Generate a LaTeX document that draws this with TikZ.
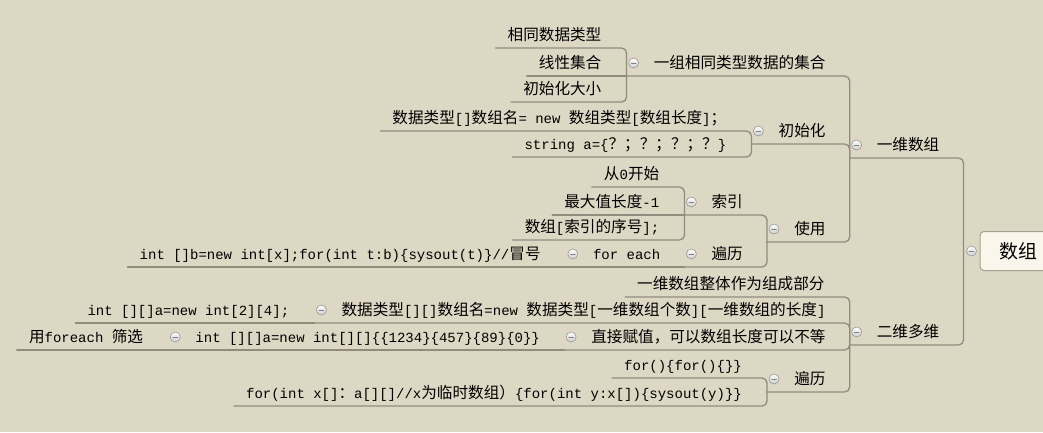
\documentclass[tikz,border=0pt]{standalone}
\usepackage{fontspec}
\setmainfont{Liberation Mono}
\newfontfamily\cjkfont{Noto Sans CJK SC}[Scale=1.115]
% Chinese characters and full-width punctuation go to the CJK font
\XeTeXinterchartokenstate=1
\newXeTeXintercharclass\cjkcls
\newcount\cjkno
\def\setcjkrange#1#2{\cjkno=#1 \loop\ifnum\cjkno<#2 \XeTeXcharclass\cjkno=\cjkcls \advance\cjkno by 1 \repeat}
\setcjkrange{"3000}{"3040}
\setcjkrange{"4E00}{"A000}
\setcjkrange{"FF00}{"FFF0}
\cjkno="21 \loop\ifnum\cjkno<"7F \XeTeXcharclass\cjkno=0 \advance\cjkno by 1 \repeat
\XeTeXinterchartoks 0 \cjkcls = {\begingroup\cjkfont}
\XeTeXinterchartoks 4095 \cjkcls = {\begingroup\cjkfont}
\XeTeXinterchartoks \cjkcls 0 = {\endgroup}
\XeTeXinterchartoks \cjkcls 4095 = {\endgroup}
\definecolor{bgcol}{RGB}{221,216,196}
\definecolor{linecol}{RGB}{145,140,125}
\definecolor{rootfill}{RGB}{250,246,236}
\definecolor{rootline}{RGB}{165,160,145}
\definecolor{foldline}{RGB}{150,150,150}
\definecolor{foldfill}{RGB}{205,205,205}

\begin{document}
\begin{tikzpicture}[line cap=round,line join=round,x=1pt,y=-1pt,
		conn/.style={line width=1.3pt,draw=linecol,rounded corners=5pt},
		topic/.style={anchor=south east,inner xsep=0pt,inner ysep=3pt,text depth=4pt,text height=11pt,font=\fontsize{14}{16}\selectfont,text=black},
		leaf/.style={topic,execute at begin node={\hspace*{12pt}},execute at end node={\hspace*{25pt}}},
		branch/.style={topic,execute at begin node={\hspace*{27pt}},execute at end node={\hspace*{24pt}}},
		fold/.style={circle,draw=foldline,line width=0.6pt,inner sep=0pt,minimum size=10pt,top color=white,bottom color=foldfill,
			path picture={\draw[line width=1pt,draw=gray] ([xshift=-2.3pt]path picture bounding box.center)--([xshift=2.3pt]path picture bounding box.center);}},
		root/.style={draw=rootline,fill=rootfill,rounded corners=4pt,line width=1pt,minimum width=76pt,minimum height=39pt,font=\fontsize{17}{20}\selectfont}]
		\useasboundingbox (0,0) rectangle (1043,432);
		\clip (0,0) rectangle (1043,432);
		\fill[bgcol] (0,0) rectangle (1043,432);
		% root and its two branches
		\node[root] (root) at (1018,251) {数组};
		\coordinate (rootend) at ([xshift=-16pt]root.west);
		\node[branch] (yiwei) at ([yshift=93pt]rootend) {一维数组};
		\node[branch] (erwei) at ([yshift=-94pt]rootend) {二维多维};
		% 一维数组
		\node[branch] (jihe) at ([yshift=82pt]yiwei.south west) {一组相同类型数据的集合};
		\node[branch] (chushihua) at ([yshift=14pt]yiwei.south west) {初始化};
		\node[branch] (shiyong) at ([yshift=-84pt]yiwei.south west) {使用};
		\node[leaf] (xiangtong) at ([yshift=28pt]jihe.south west) {相同数据类型};
		\node[leaf] (xianxing) at (jihe.south west) {线性集合};
		\node[leaf] (daxiao) at ([yshift=-26pt]jihe.south west) {初始化大小};
		\node[leaf] (dingyi) at ([yshift=13pt]chushihua.south west) {数据类型[]数组名= new 数组类型[数组长度]；};
		\node[leaf] (stringa) at ([yshift=-13pt]chushihua.south west) {string a=\{？；？；？；？\}};
		\node[branch] (suoyin) at ([yshift=27pt]shiyong.south west) {索引};
		\node[branch] (bianli) at ([yshift=-25pt]shiyong.south west) {遍历};
		\node[leaf] (cong0) at ([yshift=28pt]suoyin.south west) {从0开始};
		\node[leaf] (zuida) at (suoyin.south west) {最大值长度-1};
		\node[leaf] (xuhao) at ([yshift=-25pt]suoyin.south west) {数组[索引的序号];};
		\node[branch] (foreach) at (bianli.south west) {for each};
		\node[leaf] (intb) at (foreach.south west) {int []b=new int[x];for(int t:b)\{sysout(t)\}//冒号};
		% 二维多维
		\node[leaf] (zhengti) at ([yshift=48pt]erwei.south west) {一维数组整体作为组成部分};
		\node[branch] (dingyi2) at ([yshift=22pt]erwei.south west) {数据类型[][]数组名=new 数据类型[一维数组个数][一维数组的长度]};
		\node[branch] (fuzhi) at ([yshift=-5pt]erwei.south west) {直接赋值，可以数组长度可以不等};
		\node[branch] (bianli2) at ([yshift=-47pt]erwei.south west) {遍历};
		\node[leaf] (int24) at (dingyi2.south west) {int [][]a=new int[2][4];};
		\node[branch] (intarr) at (fuzhi.south west) {int [][]a=new int[][]\{\{1234\}\{457\}\{89\}\{0\}\}};
		\node[leaf] (shaixuan) at (intarr.south west) {用foreach 筛选};
		\node[leaf] (forfor) at ([yshift=14pt]bianli2.south west) {for()\{for()\{\}\}};
		\node[leaf] (forint) at ([yshift=-14pt]bianli2.south west) {for(int x[]：a[][]//x为临时数组）\{for(int y:x[])\{sysout(y)\}\}};
		% connectors
		\draw[conn] (rootend) |- (yiwei.south west);
		\draw[conn] (rootend) |- (erwei.south west);
		\draw[conn] (yiwei.south west) |- (jihe.south west);
		\draw[conn] (yiwei.south west) |- (chushihua.south west);
		\draw[conn] (yiwei.south west) |- (shiyong.south west);
		\draw[conn] (jihe.south west) |- (xiangtong.south west);
		\draw[conn] (jihe.south west) -- (xianxing.south west);
		\draw[conn] (jihe.south west) |- (daxiao.south west);
		\draw[conn] (chushihua.south west) |- (dingyi.south west);
		\draw[conn] (chushihua.south west) |- (stringa.south west);
		\draw[conn] (shiyong.south west) |- (suoyin.south west);
		\draw[conn] (shiyong.south west) |- (bianli.south west);
		\draw[conn] (suoyin.south west) |- (cong0.south west);
		\draw[conn] (suoyin.south west) -- (zuida.south west);
		\draw[conn] (suoyin.south west) |- (xuhao.south west);
		\draw[conn] (bianli.south west) -- (foreach.south west);
		\draw[conn] (foreach.south west) -- (intb.south west);
		\draw[conn] (erwei.south west) |- (zhengti.south west);
		\draw[conn] (erwei.south west) |- (dingyi2.south west);
		\draw[conn] (erwei.south west) |- (fuzhi.south west);
		\draw[conn] (erwei.south west) |- (bianli2.south west);
		\draw[conn] (dingyi2.south west) -- (int24.south west);
		\draw[conn] (fuzhi.south west) -- (intarr.south west);
		\draw[conn] (intarr.south west) -- (shaixuan.south west);
		\draw[conn] (bianli2.south west) |- (forfor.south west);
		\draw[conn] (bianli2.south west) |- (forint.south west);
		% fold buttons
		\node[fold] at ([xshift=-8pt]root.west) {};
		\node[fold] at ([shift={(7pt,13pt)}]yiwei.south west) {};
		\node[fold] at ([shift={(7pt,13pt)}]erwei.south west) {};
		\node[fold] at ([shift={(7pt,13pt)}]jihe.south west) {};
		\node[fold] at ([shift={(7pt,13pt)}]chushihua.south west) {};
		\node[fold] at ([shift={(7pt,13pt)}]shiyong.south west) {};
		\node[fold] at ([shift={(7pt,13pt)}]suoyin.south west) {};
		\node[fold] at ([shift={(7pt,13pt)}]bianli.south west) {};
		\node[fold] at ([shift={(7pt,13pt)}]foreach.south west) {};
		\node[fold] at ([shift={(7pt,13pt)}]dingyi2.south west) {};
		\node[fold] at ([shift={(7pt,13pt)}]fuzhi.south west) {};
		\node[fold] at ([shift={(7pt,13pt)}]intarr.south west) {};
		\node[fold] at ([shift={(7pt,13pt)}]bianli2.south west) {};
	\end{tikzpicture}
\end{document}
